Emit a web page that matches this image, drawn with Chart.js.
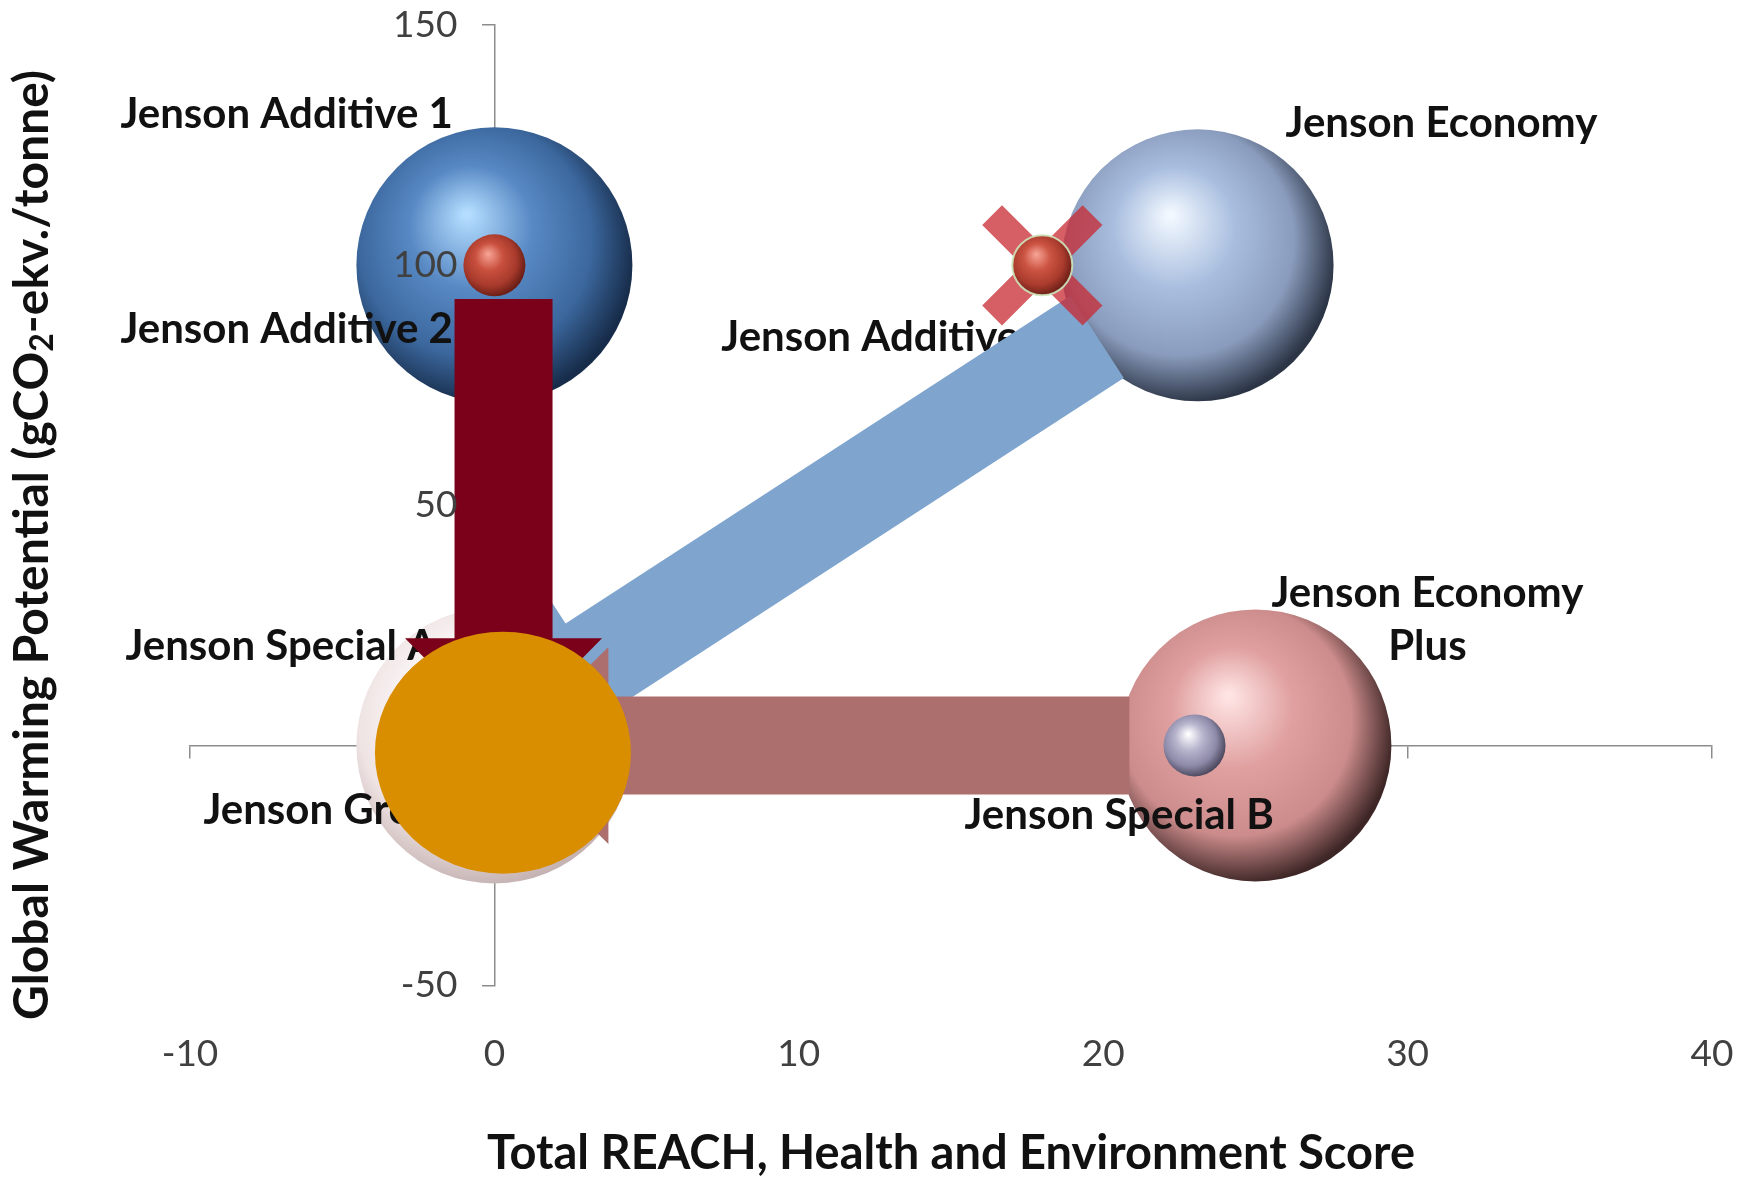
<!DOCTYPE html>
<html>
<head>
<meta charset="utf-8">
<title>Jenson products – GWP vs REACH score</title>
<script src="https://cdn.jsdelivr.net/npm/chart.js@4.4.1/dist/chart.umd.min.js"></script>
<style>
  html, body { margin: 0; padding: 0; background: #fff; }
  #chart { display: block; }
</style>
</head>
<body>
<canvas id="chart" width="1752" height="1179"></canvas>
<script>
// Products, their REACH/health/environment score (x), GWP (y) and bubble size
const productNames = ["Jenson Additive 1", "Jenson Additive 2", "Jenson Economy", "Jenson Additive 3",
                      "Jenson Special A", "Jenson Green", "Jenson Economy Plus", "Jenson Special B"];
const reachScore = [0, 0, 23.1, 18, 0, 0, 25, 23];
const gwp = [100, 100, 100, 100, 0, 0, 0, 0];
const bubbleSize = [138, 31, 136, 30, 138, 31, 136, 31];

const xTicks = [-10, 0, 10, 20, 30, 40];
const yTicks = [-50, 0, 50, 100, 150];

const xTitle = "Total REACH, Health and Environment Score";
const yTitleParts = ["Global Warming Potential (gCO", "2", "-ekv./tonne)"];

// the product that gets the cross
const crossedProduct = 3;

// arrows between products, in axis units
const arrows = [
  { from: [19.8, 85.1], to: [0.46, 5.5], color: "#7fa5cf" },
  { from: [20.86, 0], to: [0.46, 0], color: "#ad6e6e" },
  { from: [0.3, 93], to: [0.3, 1.5], color: "#7b0019" }
];
const target = { x: 0.28, y: -1.5, rx: 128, ry: 121, color: "#d98e00" };

// sphere shading per product: highlight, body, shade, rim
const spherePalette = [
  ["#b4ddff", "#5889c4", "#3b679d", "#172c4a"],
  ["#f6a294", "#c9503e", "#a83a2c", "#6a1e16"],
  ["#f2f8ff", "#a9bedf", "#8a9cbd", "#2c3546"],
  ["#f6a294", "#cc5442", "#aa3b2d", "#6a1e16"],
  ["#ffffff", "#fbf7f7", "#efe3e3", "#c6b3b3"],
  ["#f0fae6", "#c8ddb4", "#9cb884", "#5a7a4a"],
  ["#ffe4e4", "#e0a0a0", "#cd8c8c", "#3e2626"],
  ["#ffffff", "#b7b4cd", "#8d89a8", "#4c495f"]
];

// label placement relative to each bubble centre (px)
const labelPlacement = [
  { dx: -374, dy: -137, align: "left" },
  { dx: -374, dy: 78, align: "left" },
  { dx: 88, dy: -128, align: "left" },
  { dx: -321, dy: 86, align: "left" },
  { dx: -369, dy: -85, align: "left" },
  { dx: -291, dy: 79, align: "left" },
  { dx: 172, dy: -138, align: "center", wrap: 380, lineGap: 53 },
  { dx: -230, dy: 84, align: "left" }
];

const FONT = "Lato, 'Open Sans', sans-serif";
const AXIS_GREY = "#8c8c8c";

function sphereFill(c) {
  const pal = spherePalette[c.datasetIndex] || spherePalette[0];
  if (c.type !== "data" || !c.raw) return pal[1];
  const { x, y } = c.chart.scales;
  if (!x || !y) return pal[1];
  const cx = x.getPixelForValue(c.raw.x);
  const cy = y.getPixelForValue(c.raw.y);
  const r = c.raw.r;
  if (![cx, cy, r].every(Number.isFinite)) return pal[1];
  const g = c.chart.ctx.createRadialGradient(cx - 0.2 * r, cy - 0.37 * r, r * 0.02,
                                             cx - 0.12 * r, cy - 0.12 * r, r * 1.14);
  g.addColorStop(0, pal[0]);
  g.addColorStop(0.38, pal[1]);
  g.addColorStop(0.74, pal[2]);
  g.addColorStop(1, pal[3]);
  return g;
}

function wrapText(ctx, text, maxWidth) {
  const words = text.split(" ");
  const lines = [];
  let line = "";
  words.forEach(w => {
    const test = line ? line + " " + w : w;
    if (line && ctx.measureText(test).width > maxWidth) {
      lines.push(line);
      line = w;
    } else {
      line = test;
    }
  });
  lines.push(line);
  return lines;
}

function drawLabels(chart) {
  const { ctx, scales: { x, y } } = chart;
  ctx.save();
  ctx.font = "bold 42px " + FONT;
  ctx.fillStyle = "#111";
  ctx.textBaseline = "alphabetic";
  productNames.forEach((name, i) => {
    const p = labelPlacement[i];
    const px = x.getPixelForValue(reachScore[i]) + p.dx;
    const py = y.getPixelForValue(gwp[i]) + p.dy;
    ctx.textAlign = p.align;
    const lines = p.wrap ? wrapText(ctx, name, p.wrap) : [name];
    lines.forEach((ln, k) => ctx.fillText(ln, px, py + k * (p.lineGap || 0)));
  });
  ctx.restore();
}

function drawArrow(ctx, x1, y1, x2, y2, color) {
  const shaft = 98, head = 197, headLen = 100;
  const len = Math.hypot(x2 - x1, y2 - y1);
  ctx.save();
  ctx.translate(x1, y1);
  ctx.rotate(Math.atan2(y2 - y1, x2 - x1));
  ctx.beginPath();
  ctx.moveTo(0, -shaft / 2);
  ctx.lineTo(len - headLen, -shaft / 2);
  ctx.lineTo(len - headLen, -head / 2);
  ctx.lineTo(len, 0);
  ctx.lineTo(len - headLen, head / 2);
  ctx.lineTo(len - headLen, shaft / 2);
  ctx.lineTo(0, shaft / 2);
  ctx.closePath();
  ctx.fillStyle = color;
  ctx.fill();
  ctx.restore();
}

const overlays = {
  id: "overlays",
  // labels and arrows sit above the big spheres, below the cross marker
  beforeDatasetDraw(chart, args) {
    if (!chart.data.datasets[args.index].isCross) return;
    drawLabels(chart);
    const { ctx, scales: { x, y } } = chart;
    arrows.forEach(a => {
      drawArrow(ctx, x.getPixelForValue(a.from[0]), y.getPixelForValue(a.from[1]),
                x.getPixelForValue(a.to[0]), y.getPixelForValue(a.to[1]), a.color);
    });
  },
  afterDraw(chart) {
    const { ctx, scales: { x, y } } = chart;
    ctx.save();
    ctx.beginPath();
    ctx.ellipse(x.getPixelForValue(target.x), y.getPixelForValue(target.y), target.rx, target.ry, 0, 0, Math.PI * 2);
    ctx.fillStyle = target.color;
    ctx.fill();

    // vertical axis title with a real subscript
    ctx.translate(33, 545);
    ctx.rotate(-Math.PI / 2);
    ctx.fillStyle = "#111";
    ctx.textBaseline = "middle";
    ctx.textAlign = "left";
    const big = "bold 48px " + FONT, small = "bold 32px " + FONT;
    ctx.font = big;
    const w0 = ctx.measureText(yTitleParts[0]).width;
    const w2 = ctx.measureText(yTitleParts[2]).width;
    ctx.font = small;
    const w1 = ctx.measureText(yTitleParts[1]).width;
    let cx = -(w0 + w1 + w2) / 2;
    ctx.font = big;
    ctx.fillText(yTitleParts[0], cx, 0);
    cx += w0;
    ctx.font = small;
    ctx.fillText(yTitleParts[1], cx, 10);
    cx += w1;
    ctx.font = big;
    ctx.fillText(yTitleParts[2], cx, 0);
    ctx.restore();
  }
};

const sphereSets = productNames.map((name, i) => ({
  label: name,
  type: "bubble",
  data: [{ x: reachScore[i], y: gwp[i], r: bubbleSize[i] }],
  backgroundColor: sphereFill,
  borderWidth: i === crossedProduct ? 2 : 0,
  borderColor: "rgba(205, 228, 186, 0.9)",
  order: bubbleSize[i] > 60 ? 2 : 0
}));

const crossSet = {
  label: productNames[crossedProduct],
  type: "scatter",
  isCross: true,
  data: [{ x: reachScore[crossedProduct], y: gwp[crossedProduct] }],
  pointStyle: "crossRot",
  pointRadius: 71,
  pointBorderWidth: 28,
  pointBorderColor: "rgba(200, 40, 50, 0.75)",
  pointBackgroundColor: "rgba(0,0,0,0)",
  showLine: false,
  order: 1
};

const tickFont = { family: FONT, size: 37 };

new Chart(document.getElementById("chart"), {
  type: "bubble",
  data: { datasets: sphereSets.concat([crossSet]) },
  options: {
    responsive: false,
    devicePixelRatio: 1,
    animation: false,
    events: [],
    layout: { autoPadding: false, padding: { left: 190, right: 40, top: 24.6, bottom: 0 } },
    plugins: { legend: { display: false }, tooltip: { enabled: false } },
    scales: {
      x: {
        type: "linear",
        position: "bottom",
        min: xTicks[0],
        max: xTicks[xTicks.length - 1],
        afterBuildTicks: s => { s.ticks = xTicks.map(v => ({ value: v })); },
        // fixed band under the plot; end labels fit inside the side margins
        afterFit: s => { s.height = 193.5; s.paddingLeft = 0; s.paddingRight = 0; },
        ticks: { font: tickFont, color: "#404040", padding: 46, maxRotation: 0, autoSkip: false },
        grid: { display: false, drawTicks: false },
        border: { display: false },
        title: {
          display: true,
          text: xTitle,
          color: "#111",
          font: { family: FONT, size: 47, weight: "bold", lineHeight: 1 },
          padding: { top: 0, bottom: 2 }
        }
      },
      xAxisLine: {
        type: "linear",
        axis: "x",
        position: { y: 0 },
        min: xTicks[0],
        max: xTicks[xTicks.length - 1],
        afterBuildTicks: s => { s.ticks = xTicks.map(v => ({ value: v })); },
        ticks: { display: false },
        grid: { drawOnChartArea: false, drawTicks: true, tickLength: 12, color: AXIS_GREY, lineWidth: 1.5 },
        border: { color: AXIS_GREY, width: 1.5 }
      },
      y: {
        type: "linear",
        position: { x: 0 },
        min: yTicks[0],
        max: yTicks[yTicks.length - 1],
        afterBuildTicks: s => { s.ticks = yTicks.map(v => ({ value: v })); },
        // labels sit clear of the tick marks on the crossing axis
        ticks: { font: tickFont, color: "#404040", z: 1, callback: v => v + "\u2002\u2002" },
        grid: { drawOnChartArea: false, drawTicks: true, tickLength: 12, color: AXIS_GREY, lineWidth: 1.5 },
        border: { color: AXIS_GREY, width: 1.5 }
      }
    }
  },
  plugins: [overlays]
});
</script>
</body>
</html>
